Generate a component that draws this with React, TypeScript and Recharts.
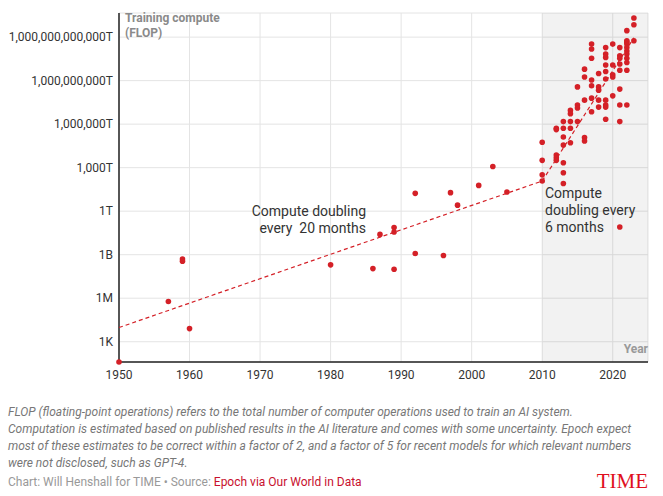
import React from 'react';
import {
  ComposedChart,
  Scatter,
  XAxis,
  YAxis,
  CartesianGrid,
  ReferenceArea,
} from 'recharts';

// Training compute (FLOP) of notable AI systems
const years1950s = [1950, 1957, 1959, 1959, 1960];
const flop1950s = [40, 6e5, 5e8, 3.5e8, 8e3];

const yearsPre2010 = [1980, 1986, 1987, 1989, 1989, 1989, 1992, 1992, 1996, 1997, 1998, 2001, 2003, 2005];
const flopPre2010 = [2e8, 1.1e8, 2.5e10, 7.4e10, 3.7e10, 1e8, 1.7e13, 1.2e9, 8.7e8, 1.9e13, 2.6e12, 6e13, 1.2e15, 2.1e13];

const yearsDeep = [
  2010, 2010, 2010, 2010,
  2012, 2012, 2012, 2012, 2012,
  2013, 2013, 2013, 2013, 2013, 2013, 2013,
  2014, 2014, 2014, 2014, 2014,
  2015, 2015, 2015, 2015,
  2016, 2016, 2016, 2016, 2016,
  2017, 2017, 2017, 2017, 2017, 2017, 2017,
  2018, 2018, 2018, 2018, 2018,
  2019, 2019, 2019, 2019, 2019, 2019, 2019, 2019, 2019, 2019,
  2020, 2020, 2020, 2020, 2020,
  2021, 2021, 2021, 2021, 2021, 2021, 2021, 2021, 2021,
  2022, 2022, 2022, 2022, 2022, 2022, 2022, 2022, 2022, 2022, 2022,
  2023, 2023, 2023,
];
const flopDeep = [
  5.6e16, 3.2e15, 3.2e14, 1.2e14,
  5.2e17, 4.2e17, 7.4e15, 4.8e15, 3.2e15,
  1.5e18, 5.2e17, 1.3e17, 3.6e16, 2.2e15, 4.5e14, 8.1e13,
  8.9e18, 5.2e18, 1.5e18, 5.2e17, 5.2e16,
  3.7e20, 2.1e19, 1.3e19, 1.5e18,
  6.2e21, 1.8e21, 4.5e19, 1.2e17, 6.9e16,
  3.3e23, 1.5e23, 3.5e22, 1.1e21, 4.4e20, 6.2e19, 7.2e18,
  3.1e21, 3.7e20, 2.2e20, 4.5e19, 1.5e19,
  1.9e23, 6.8e22, 4e22, 1.2e22, 4.3e21, 1.3e21, 4.5e19, 2.1e19, 1.5e19, 2.2e18,
  3.3e23, 1.2e22, 2.5e21, 1.8e21, 8.9e19,
  1.9e23, 5.1e22, 3.5e22, 1.4e22, 5.2e21, 2.6e20, 2.1e19, 1.5e18, 8.1e10,
  2.8e24, 5.6e23, 4.5e23, 3.3e23, 1.9e23, 1.1e23, 6.8e22, 3.5e22, 1.8e22, 5.2e21, 2.1e19,
  2.1e25, 7.1e24, 5.6e23,
];

// trend lines (dashed)
const trendSlowYears = [1950, 2010];
const trendSlowFlop = [9.5e3, 1.2e14];
const trendFastYears = [2010, 2023];
const trendFastFlop = [1.2e14, 9e23];

const xTicks = [1950, 1960, 1970, 1980, 1990, 2000, 2010, 2020];
const yTicks = [1e3, 1e6, 1e9, 1e12, 1e15, 1e18, 1e21, 1e24];
const yTickLabels = ['1K', '1M', '1B', '1T', '1,000T', '1,000,000T', '1,000,000,000T', '1,000,000,000,000T'];

const RED = '#d42027';

const toPoints = (xs: number[], ys: number[]) => xs.map((year, i) => ({ year, flop: ys[i] }));

const points = [
  ...toPoints(years1950s, flop1950s),
  ...toPoints(yearsPre2010, flopPre2010),
  ...toPoints(yearsDeep, flopDeep),
];
const slowLine = toPoints(trendSlowYears, trendSlowFlop);
const fastLine = toPoints(trendFastYears, trendFastFlop);

const Dot = (props: any) => <circle cx={props.cx} cy={props.cy} r={2.8} fill={RED} />;
const NoDot = () => <g />;

const fmtY = (v: number) => {
  const i = yTicks.findIndex((t) => Math.abs(Math.log10(t) - Math.log10(v)) < 0.01);
  return i >= 0 ? yTickLabels[i] : '';
};

export default function App() {
  return (
    <div
      style={{
        position: 'absolute',
        left: 0,
        top: 0,
        width: 663,
        height: 496,
        background: '#fff',
        fontFamily: 'Roboto, sans-serif',
      }}
    >
      <ComposedChart
        width={663}
        height={390}
        margin={{ top: 13, right: 15, left: 0, bottom: 0 }}
      >
        <CartesianGrid stroke="#e4e4e4" />
        <ReferenceArea x1={2010} x2={2025} fill="#000" fillOpacity={0.05} stroke="none" ifOverflow="visible" />
        <XAxis
          type="number"
          dataKey="year"
          domain={[1950, 2025]}
          ticks={xTicks}
          tickLine={false}
          axisLine={{ stroke: '#222', strokeWidth: 1.5 }}
          tick={{ fill: '#333', fontSize: 12 }}
          height={28}
        />
        <YAxis
          type="number"
          dataKey="flop"
          scale="log"
          domain={[40, 4.6e25]}
          ticks={yTicks}
          tickFormatter={fmtY}
          tickLine={false}
          tickSize={4}
          tickMargin={2}
          axisLine={{ stroke: '#222', strokeWidth: 1.5 }}
          tick={{ fill: '#333', fontSize: 12 }}
          width={119}
        />
        <Scatter
          data={slowLine}
          line={{ stroke: RED, strokeWidth: 1.2, strokeDasharray: '4 3' }}
          shape={NoDot}
          isAnimationActive={false}
        />
        <Scatter
          data={fastLine}
          line={{ stroke: RED, strokeWidth: 1.2, strokeDasharray: '4 3' }}
          shape={NoDot}
          isAnimationActive={false}
        />
        <Scatter data={points} shape={Dot} isAnimationActive={false} />
      </ComposedChart>

      <div style={{ position: 'absolute', left: 125, top: 11, fontSize: 12, fontWeight: 700, color: '#8a8a8a', lineHeight: '15px' }}>
        Training compute
        <br />
        (FLOP)
      </div>
      <div style={{ position: 'absolute', right: 15, top: 342, fontSize: 12, fontWeight: 700, color: '#999' }}>Year</div>

      <div style={{ position: 'absolute', right: 663 - 366, top: 203, fontSize: 14, color: '#333', lineHeight: '17px', textAlign: 'right', whiteSpace: 'pre' }}>
        {'Compute doubling\nevery  20 months'}
      </div>
      <div style={{ position: 'absolute', left: 545, top: 185, fontSize: 14, color: '#333', lineHeight: '17px', whiteSpace: 'pre' }}>
        {'Compute\ndoubling every\n6 months'}
      </div>

      <div style={{ position: 'absolute', left: 8, top: 404, fontSize: 12, fontStyle: 'italic', color: '#777', lineHeight: '17px', whiteSpace: 'nowrap' }}>
        FLOP (floating-point operations) refers to the total number of computer operations used to train an AI system.
        <br />
        Computation is estimated based on published results in the AI literature and comes with some uncertainty. Epoch expect
        <br />
        most of these estimates to be correct within a factor of 2, and a factor of 5 for recent models for which relevant numbers
        <br />
        were not disclosed, such as GPT-4.
      </div>
      <div style={{ position: 'absolute', left: 8, top: 475, fontSize: 12, color: '#999', whiteSpace: 'nowrap' }}>
        Chart: Will Henshall for TIME • Source: <span style={{ color: '#c8102e' }}>Epoch via Our World in Data</span>
      </div>
      <div style={{ position: 'absolute', right: 15, top: 469, fontSize: 21, color: '#e0101e', fontFamily: '"Liberation Serif", serif' }}>
        TIME
      </div>
    </div>
  );
}
